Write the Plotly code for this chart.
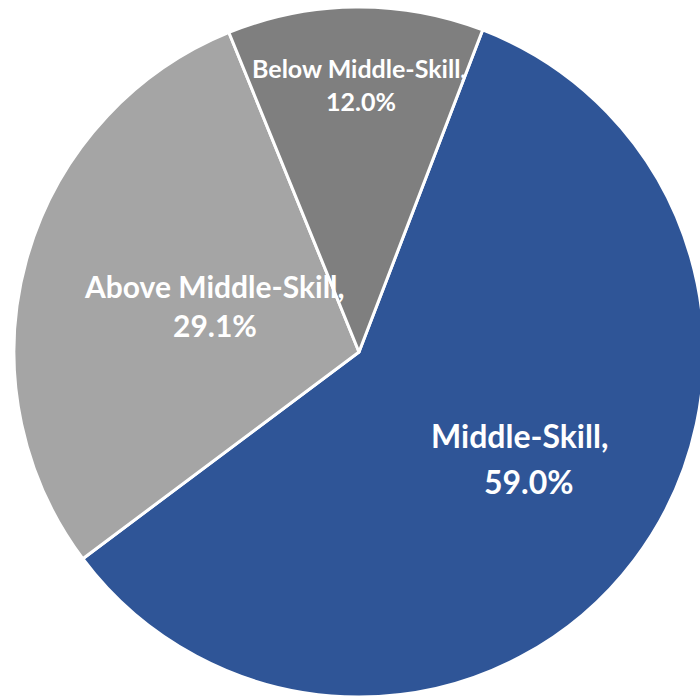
import plotly.graph_objects as go

# Data
categories = ["Middle-Skill", "Above Middle-Skill", "Below Middle-Skill"]
values = [59.0, 29.1, 12.0]
colors = ["#2F5597", "#A5A5A5", "#7F7F7F"]

# Figure size (larger than the 700x698 window; the page is clipped to the window)
W, H = 720, 704

# Label layout (pixel centers of each text line)
name_pos = [(519, 436), (214, 286), (359, 68)]
pct_pos = [(529, 481), (215, 325), (360.5, 101)]
font_sizes = [32, 30, 25]

# Pie placement (pixels): center and radius
cx, cy, r = 359, 352, 345

fig = go.Figure()
fig.add_trace(go.Pie(
    labels=categories,
    values=values,
    marker=dict(colors=colors, line=dict(color="white", width=3)),
    sort=False,
    direction="clockwise",
    rotation=21,
    textinfo="none",
    hoverinfo="label+percent",
    showlegend=False,
    domain=dict(x=[(cx - r) / W, (cx + r) / W], y=[1 - (cy + r) / H, 1 - (cy - r) / H]),
))

annotations = []
for cat, val, (nx, ny), (px, py), fs in zip(categories, values, name_pos, pct_pos, font_sizes):
    for txt, x, y in [(cat + ",", nx, ny), (f"{val:.1f}%", px, py)]:
        annotations.append(dict(
            text=txt, x=x / W, y=1 - y / H, xref="paper", yref="paper",
            xanchor="center", yanchor="middle", showarrow=False,
            font=dict(family="Lato", size=fs, color="white", weight="bold"),
        ))

fig.update_layout(
    width=W, height=H,
    margin=dict(l=0, r=0, t=0, b=0),
    paper_bgcolor="white",
    plot_bgcolor="white",
    annotations=annotations,
)

page_css = (
    "document.documentElement.style.margin='0';"
    "document.documentElement.style.overflow='hidden';"
    "document.body.style.margin='0';"
    "document.body.style.overflow='hidden';"
)

fig.write_html("out.html", default_width=f"{W}px", default_height=f"{H}px",
               post_script=page_css, config={"displayModeBar": False})
